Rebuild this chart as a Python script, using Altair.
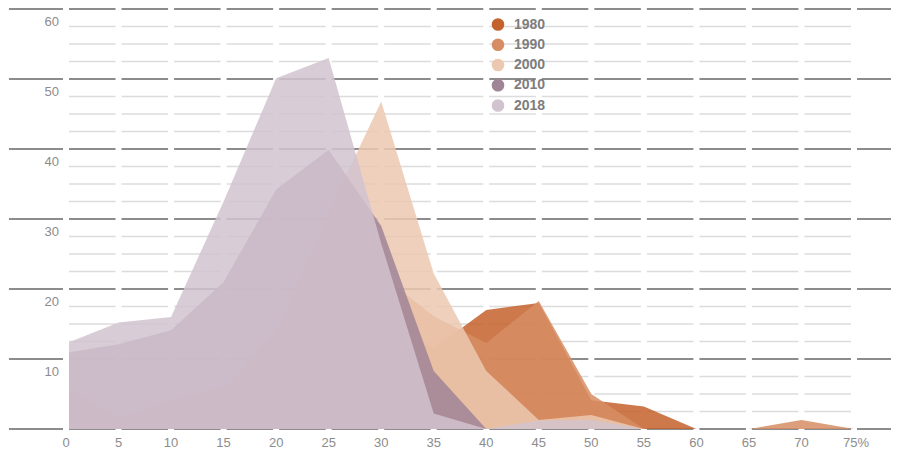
import altair as alt
import pandas as pd

# ---- data ----
x_vals = [0, 5, 10, 15, 20, 25, 30, 35, 40, 45, 50, 55, 60, 65, 70, 75]
years = ["1980", "1990", "2000", "2010", "2018"]
colors = ["#c4622d", "#d68d64", "#ecc8b0", "#a08498", "#d1c3cf"]

y1980 = [0, 0, 0, 1.5, 6, 12, 16, 11.5, 17.0, 18.0, 4.1, 3.2, 0, 0, 0, 0]
y1990 = [0, 0, 0.5, 4, 10, 17, 22, 16.1, 12.3, 18.3, 5.0, 0, 0, 0, 1.3, 0]
y2000 = [6.2, 1.7, 4.1, 6.0, 14, 31, 46.8, 22.2, 8.3, 1.3, 2.0, 0, 0, 0, 0, 0]
y2010 = [10.9, 12.1, 14.1, 21.0, 34.2, 39.9, 29.0, 8.3, 0, 0, 0, 0, 0, 0, 0, 0]
y2018 = [12.2, 15.2, 16.0, 32.5, 50.1, 53.0, 26.5, 2.2, 0, 1.2, 1.3, 0, 0, 0, 0, 0]
series = [y1980, y1990, y2000, y2010, y2018]

x_labels = ["0", "5", "10", "15", "20", "25", "30", "35", "40", "45", "50",
            "55", "60", "65", "70"]
last_label = "75%"
y_labels = [10, 20, 30, 40, 50, 60]
major_grid = [0, 10, 20, 30, 40, 50, 60]
minor_grid = [2.5, 5, 7.5, 12.5, 15, 17.5, 22.5, 25, 27.5, 32.5, 35, 37.5,
              42.5, 45, 47.5, 52.5, 55, 57.5]

# ---- tables ----
rows = []
for yr, vals in zip(years, series):
    for x, v in zip(x_vals, vals):
        rows.append({"x": x, "v": v, "year": yr})
df = pd.DataFrame(rows)

xs = alt.Scale(domain=[0, 75], nice=False, zero=False)
ys = alt.Scale(domain=[0, 60], nice=False)

FONT = "Liberation Sans"

major_df = pd.DataFrame({"y": major_grid, "x1": [-5.43] * len(major_grid),
                         "x2": [79.2] * len(major_grid)})
minor_df = pd.DataFrame({"y": minor_grid, "x1": [0] * len(minor_grid),
                         "x2": [75] * len(minor_grid)})
vert_df = pd.DataFrame({"x": x_vals, "y1": [-0.4] * len(x_vals),
                        "y2": [61.5] * len(x_vals)})
edge_df = pd.DataFrame({"x": [x_vals[0]], "y1": [-0.4], "y2": [61.5]})

minor = alt.Chart(minor_df).mark_rule(color="#dcdcdc", strokeWidth=1.5).encode(
    x=alt.X("x1:Q", scale=xs, axis=None), x2="x2:Q",
    y=alt.Y("y:Q", scale=ys, axis=None))
major = alt.Chart(major_df).mark_rule(color="#8c8c8c", strokeWidth=2).encode(
    x=alt.X("x1:Q", scale=xs, axis=None), x2="x2:Q",
    y=alt.Y("y:Q", scale=ys, axis=None))
vert = alt.Chart(vert_df).mark_rule(color="white", strokeWidth=6).encode(
    x=alt.X("x:Q", scale=xs, axis=None),
    y=alt.Y("y1:Q", scale=ys, axis=None), y2="y2:Q")
edge = alt.Chart(edge_df).mark_rule(color="white", strokeWidth=6).encode(
    x=alt.X("x:Q", scale=xs, axis=None),
    y=alt.Y("y1:Q", scale=ys, axis=None), y2="y2:Q")

legend = alt.Legend(title=None, orient="none", legendX=425, legendY=8.5,
                    symbolType="circle", symbolSize=160, symbolOpacity=1,
                    symbolStrokeWidth=0, labelFont=FONT, labelFontSize=14,
                    labelFontWeight="bold", labelColor="#7d7d7d",
                    labelOffset=9, rowPadding=6.25, padding=0)

areas = []
for yr in years:
    areas.append(
        alt.Chart(df).transform_filter(alt.datum.year == yr)
        .mark_area(opacity=0.85, interpolate="linear")
        .encode(
            x=alt.X("x:Q", scale=xs, axis=None),
            y=alt.Y("v:Q", scale=ys, axis=None, stack=None),
            color=alt.Color("year:N", scale=alt.Scale(domain=years, range=colors),
                            legend=legend),
        )
    )

xlab_df = pd.DataFrame({"x": x_vals[:-1], "y": [0] * (len(x_vals) - 1),
                        "t": x_labels})
xlab = alt.Chart(xlab_df).mark_text(
    align="center", baseline="alphabetic", dy=18, font=FONT, fontSize=13,
    color="#8c8c8c").encode(
    x=alt.X("x:Q", scale=xs, axis=None), y=alt.Y("y:Q", scale=ys, axis=None),
    text="t:N")
xlast_df = pd.DataFrame({"x": [x_vals[-1]], "y": [0], "t": [last_label]})
xlast = alt.Chart(xlast_df).mark_text(
    align="left", baseline="alphabetic", dx=-11, dy=18, font=FONT, fontSize=13,
    color="#8c8c8c").encode(
    x=alt.X("x:Q", scale=xs, axis=None), y=alt.Y("y:Q", scale=ys, axis=None),
    text="t:N")

ylab_df = pd.DataFrame({"x": [0] * len(y_labels), "y": y_labels,
                        "t": [str(v) for v in y_labels]})
ylab = alt.Chart(ylab_df).mark_text(
    align="right", baseline="alphabetic", dx=-7, dy=16.5, font=FONT,
    fontSize=13, color="#8c8c8c").encode(
    x=alt.X("x:Q", scale=xs, axis=None), y=alt.Y("y:Q", scale=ys, axis=None),
    text="t:N")

chart = alt.layer(minor, major, vert, *areas, edge, xlab, xlast, ylab).properties(
    width=788, height=420,
    autosize=alt.AutoSizeParams(type="none"),
    padding={"left": 58, "top": 1, "right": 37, "bottom": 21},
).configure_view(stroke=None)

chart.save("out.html", embed_options={"renderer": "svg", "actions": False})
